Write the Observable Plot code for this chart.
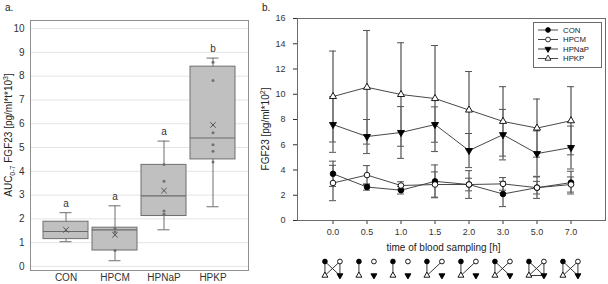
<!DOCTYPE html>
<html><head><meta charset="utf-8">
<script src="https://cdn.jsdelivr.net/npm/d3@7"></script>
<script src="https://cdn.jsdelivr.net/npm/@observablehq/plot@0.6"></script>
<style>
body{margin:0;background:#fff;font-family:"Liberation Sans",Arial,sans-serif;}
#wrap{position:relative;width:608px;height:284px;overflow:hidden;background:#fff;}
.lbl{font-size:10px;color:#222;white-space:nowrap;line-height:12px;}
.rot{transform:translate(-50%,-50%) rotate(-90deg);}
sub,sup{font-size:7px;line-height:0;}
</style></head><body>
<div id="wrap"></div>
<script>
// ---------- Panel a data (box plot summary) ----------
const groups = ["CON", "HPCM", "HPNaP", "HPKP"];
const boxMin = [1.04, 0.24, 1.54, 2.51];
const boxQ1 = [1.15, 0.67, 2.12, 4.50];
const boxMedian = [1.47, 1.54, 2.97, 5.40];
const boxQ3 = [1.88, 1.63, 4.27, 8.40];
const boxMax = [2.26, 2.55, 5.27, 8.76];
const boxMean = [1.54, 1.33, 3.19, 5.95];
const boxLetters = ["a", "a", "a", "b"];
const pointsCON = [];
const pointsHPCM = [1.60, 1.45, 0.67];
const pointsHPNaP = [4.29, 3.58, 2.33, 2.19];
const pointsHPKP = [8.59, 7.82, 5.62, 5.12, 4.84, 4.39];

// ---------- Panel b data (mean ± SD) ----------
const times = ["0.0", "0.5", "1.0", "1.5", "2.0", "3.0", "5.0", "7.0"];
const seriesNames = ["CON", "HPCM", "HPNaP", "HPKP"];
const conMean   = [3.70, 2.65, 2.40, 3.10, 2.85, 2.10, 2.60, 3.00];
const conSD     = [1.00, 0.25, 0.30, 1.30, 1.10, 1.00, 0.85, 0.90];
const hpcmMean  = [2.97, 3.60, 2.77, 2.85, 2.85, 2.90, 2.60, 2.85];
const hpcmSD    = [1.40, 0.75, 0.30, 1.00, 0.50, 0.50, 0.50, 0.60];
const hpnapMean = [7.60, 6.65, 6.97, 7.60, 5.54, 6.80, 5.30, 5.78];
const hpnapSD   = [2.20, 1.35, 2.05, 1.40, 1.35, 2.00, 1.80, 1.70];
const hpkpMean  = [9.82, 10.55, 9.98, 9.66, 8.75, 7.85, 7.32, 7.90];
const hpkpSD    = [3.60, 4.50, 4.10, 4.20, 3.05, 2.75, 2.30, 2.70];

// significant differences per time point (pairs of groups)
const sigPairs = [
  [["CON","HPKP"],["HPCM","HPNaP"],["CON","HPNaP"],["HPCM","HPKP"]],
  [["CON","HPKP"]],
  [["CON","HPKP"]],
  [["CON","HPKP"],["HPCM","HPKP"]],
  [["CON","HPKP"],["HPCM","HPKP"]],
  [["CON","HPKP"],["CON","HPNaP"],["HPCM","HPKP"]],
  [["CON","HPKP"],["CON","HPNaP"],["HPCM","HPKP"],["HPCM","HPNaP"],["HPKP","HPNaP"]],
  [["CON","HPKP"],["CON","HPNaP"],["HPCM","HPKP"],["HPCM","HPNaP"]]
];

// ---------- helpers ----------
const FONT = "Liberation Sans, Arial, sans-serif";
const triDown = {draw(ctx, size) {
  const s = Math.sqrt(size * 4 / Math.sqrt(3)), h = s * Math.sqrt(3) / 2;
  ctx.moveTo(-s/2, -h/3); ctx.lineTo(s/2, -h/3); ctx.lineTo(0, 2*h/3); ctx.closePath();
}};
const triUp = {draw(ctx, size) {
  const s = Math.sqrt(size * 4 / Math.sqrt(3)), h = s * Math.sqrt(3) / 2;
  ctx.moveTo(-s/2, h/3); ctx.lineTo(s/2, h/3); ctx.lineTo(0, -2*h/3); ctx.closePath();
}};
const sStyle = {
  CON:   {symbol: "circle", fill: "#000", r: 2.8},
  HPCM:  {symbol: "circle", fill: "#fff", r: 2.8},
  HPNaP: {symbol: triDown,  fill: "#000", r: 2.6},
  HPKP:  {symbol: triUp,    fill: "#fff", r: 2.6}
};
const cell = {CON: ["L","T"], HPCM: ["R","T"], HPKP: ["L","B"], HPNaP: ["R","B"]};
const cellOf = (g, k) => (cell[g] ? cell[g][k] : undefined);

const wrap = document.getElementById("wrap");
function place(el, left, top) { el.style.position = "absolute"; el.style.left = left + "px"; el.style.top = top + "px"; wrap.appendChild(el); return el; }
function label(html, left, top, rot) {
  const d = document.createElement("div");
  d.className = "lbl" + (rot ? " rot" : "");
  d.innerHTML = html;
  return place(d, left, top);
}

// ---------- Panel a ----------
const boxTable = groups.map((g, i) => ({group: g, min: boxMin[i], q1: boxQ1[i], median: boxMedian[i], q3: boxQ3[i], max: boxMax[i], mean: boxMean[i], letter: boxLetters[i]}));
const pts = [];
[pointsCON, pointsHPCM, pointsHPNaP, pointsHPKP].forEach((arr, i) => arr.forEach(v => pts.push({group: groups[i], value: v})));

const boxStroke = "#6e6e6e";
const plotA = Plot.plot({
  width: 250, height: 284,
  marginLeft: 30, marginRight: 2, marginTop: 20, marginBottom: 14,
  style: {fontFamily: FONT, fontSize: "10px", color: "#333", background: "transparent", overflow: "visible"},
  x: {type: "band", domain: groups, paddingInner: 0.082, paddingOuter: 0.265, label: null, tickSize: 0, tickPadding: 3},
  y: {domain: [-0.17, 10.34], ticks: 10, tickSize: 0, tickPadding: 6, label: null},
  marks: [
    Plot.ruleY(d3.range(0, 11), {stroke: "#e4e4e4"}),
    Plot.frame({stroke: "#8f8f8f"}),
    Plot.ruleX(boxTable, {x: "group", y1: "min", y2: "max", stroke: boxStroke}),
    Plot.tickY(boxTable, {x: "group", y: "max", insetLeft: 16.5, insetRight: 16.5, stroke: boxStroke}),
    Plot.tickY(boxTable, {x: "group", y: "min", insetLeft: 16.5, insetRight: 16.5, stroke: boxStroke}),
    Plot.barY(boxTable, {x: "group", y1: "q1", y2: "q3", fill: "#c0c0c0", stroke: boxStroke}),
    Plot.tickY(boxTable, {x: "group", y: "median", stroke: "#6a6a6a", strokeWidth: 1.2}),
    Plot.dot(pts, {x: "group", y: "value", r: 1.5, fill: "#707070"}),
    Plot.dot(boxTable, {x: "group", y: "mean", symbol: "times", r: 2.6, stroke: "#505050", strokeWidth: 1}),
    Plot.text(boxTable, {x: "group", y: "max", text: "letter", dy: -9, fontSize: 10, fill: "#333"})
  ]
});
place(plotA, 0, 0);

// ---------- Panel b ----------
const WB = 358, MLB = 47, MRB = 3, PADB = 0.95, PIN = 0.8;
const means = [conMean, hpcmMean, hpnapMean, hpkpMean];
const sds = [conSD, hpcmSD, hpnapSD, hpkpSD];
const rows = [];
seriesNames.forEach((s, si) => times.forEach((t, ti) => {
  const m = means[si][ti], sd = sds[si][ti];
  rows.push({series: s, time: t, mean: m, lo: m - sd, hi: m + sd});
}));
const errColor = "#7c7c7c";
const plotB = Plot.plot({
  width: WB, height: 284,
  marginLeft: MLB, marginRight: MRB, marginTop: 18, marginBottom: 64,
  style: {fontFamily: FONT, fontSize: "9px", color: "#333", background: "transparent", overflow: "visible"},
  // band centres reproduce an evenly spaced categorical axis; bandwidth = error-bar cap width
  x: {type: "band", domain: times, paddingInner: PIN, paddingOuter: PADB - (1 - PIN) / 2, label: null, tickSize: 4, tickPadding: 4},
  y: {domain: [0, 16], ticks: 8, tickSize: 4, tickPadding: 8, label: null},
  marks: [
    Plot.frame({stroke: "#6b6b6b"}),
    Plot.ruleX(rows, {x: "time", y1: "lo", y2: "hi", stroke: errColor, strokeWidth: 1.6}),
    Plot.tickY(rows, {x: "time", y: "lo", stroke: "#555"}),
    Plot.tickY(rows, {x: "time", y: "hi", stroke: "#555"}),
    Plot.line(rows, {x: "time", y: "mean", z: "series", stroke: "#333", strokeWidth: 0.9}),
    ...seriesNames.map(s => Plot.dot(rows, {filter: d => d.series === s, x: "time", y: "mean",
      symbol: sStyle[s].symbol, r: sStyle[s].r, fill: sStyle[s].fill, stroke: "#000", strokeWidth: 0.9})),
    Plot.text(["time of blood sampling [h]"], {frameAnchor: "bottom", dy: 30, dx: -8, fontSize: 10, fill: "#222"})
  ]
});
place(plotB, 250, 0);

// ---------- legend (panel b) ----------
const leg = d3.create("svg").attr("width", 70).attr("height", 47);
leg.append("rect").attr("x", 0.5).attr("y", 0.5).attr("width", 68).attr("height", 45)
  .attr("fill", "#fff").attr("stroke", "#6b6b6b");
const legY = [8, 17.5, 27, 36.5];
seriesNames.forEach((s, i) => {
  const g = leg.append("g").attr("transform", `translate(0,${legY[i]})`);
  g.append("line").attr("x1", 5).attr("x2", 25).attr("stroke", "#333").attr("stroke-width", 0.9);
  g.append("path").attr("transform", "translate(15,0)")
    .attr("d", d3.symbol(s === "HPNaP" ? triDown : s === "HPKP" ? triUp : d3.symbolCircle, Math.PI * Math.pow(sStyle[s].r * 0.85, 2))())
    .attr("fill", sStyle[s].fill).attr("stroke", "#000").attr("stroke-width", 0.8);
  g.append("text").attr("x", 30).attr("dy", "0.35em").attr("font-size", 7.8)
    .attr("font-family", FONT).attr("fill", "#222").text(s);
});
place(leg.node(), 533, 22);

// ---------- titles / axis labels ----------
label("a.", 5, 2);
label("b.", 262, 2);
label("AUC<sub>0-7</sub> FGF23 [pg/ml*t*10<sup>3</sup>]", 8.5, 135, true);
label("FGF23 [pg/ml*10<sup>2</sup>]", 265.5, 129, true);

// ---------- significance diagrams below panel b ----------
const step = (WB - MLB - MRB) / (times.length - 1 + 2 * PADB);
const firstX = MLB + PADB * step;
const diagML = firstX - step / 2;
const diagMR = WB - (firstX + (times.length - 1) * step + step / 2);
const diagLinks = [];
const diagNodes = [];
times.forEach((t, ti) => {
  seriesNames.forEach(s => diagNodes.push({time: t, series: s}));
  sigPairs[ti].forEach(([a, b]) => diagLinks.push({time: t, a, b}));
});
const diagTable = diagNodes.concat(diagLinks);
const isLink = d => d.a !== undefined;
const plotD = Plot.plot({
  width: WB, height: 34,
  marginLeft: diagML, marginRight: diagMR, marginTop: 11, marginBottom: 9,
  style: {background: "transparent", overflow: "visible"},
  facet: {data: diagTable, x: "time"},
  fx: {domain: times, padding: 0, axis: null},
  x: {type: "point", domain: ["L", "R"], padding: 0, inset: step / 2 - 8, axis: null},
  y: {type: "point", domain: ["T", "B"], padding: 0, axis: null},
  marks: [
    Plot.link(diagTable, {filter: isLink,
      x1: d => cellOf(d.a, 0), y1: d => cellOf(d.a, 1), x2: d => cellOf(d.b, 0), y2: d => cellOf(d.b, 1),
      stroke: "#222", strokeWidth: 0.9}),
    ...seriesNames.map(s => Plot.dot(diagTable, {filter: d => !isLink(d) && d.series === s,
      x: d => cellOf(d.series, 0), y: d => cellOf(d.series, 1),
      symbol: sStyle[s].symbol, r: sStyle[s].r * 0.85, fill: sStyle[s].fill, stroke: "#000", strokeWidth: 0.9}))
  ]
});
place(plotD, 250, 250);
</script>
</body></html>
